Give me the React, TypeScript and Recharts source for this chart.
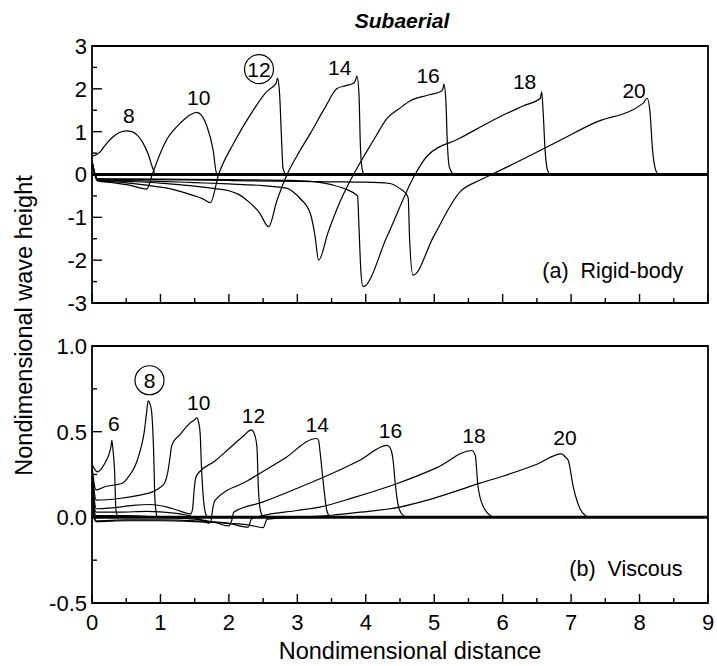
import React from 'react';
import { LineChart, Line, XAxis, YAxis, ReferenceLine, ReferenceArea, ReferenceDot } from 'recharts';

type Pt = [number, number];

// ---------- (a) Rigid-body wave profiles (x, wave height) ----------
const rigid8: Pt[] = [[0, 0.42], [0.12, 0.53], [0.2, 0.7], [0.3, 0.87], [0.4, 0.98], [0.5, 1.02], [0.58, 1.0], [0.66, 0.92], [0.74, 0.75], [0.82, 0.48], [0.88, 0.18], [0.92, 0]];
const rigid10: Pt[] = [[0, 0.3], [0.08, -0.15], [0.3, -0.19], [0.55, -0.25], [0.8, -0.34], [0.88, 0], [1.0, 0.5], [1.09, 0.81], [1.2, 1.05], [1.29, 1.2], [1.43, 1.39], [1.53, 1.45], [1.6, 1.38], [1.68, 1.12], [1.77, 0.57], [1.82, 0.03], [1.86, 0]];
const rigid12: Pt[] = [[0, 0.3], [0.08, -0.14], [0.4, -0.18], [0.8, -0.25], [1.1, -0.32], [1.3, -0.4], [1.5, -0.5], [1.62, -0.57], [1.73, -0.66], [1.85, 0], [2.07, 0.73], [2.2, 1.1], [2.36, 1.51], [2.55, 1.93], [2.67, 2.09], [2.69, 2.13], [2.71, 2.25], [2.74, 1.9], [2.77, 0.8], [2.79, 0.15], [2.83, 0]];
const rigid14: Pt[] = [[0, 0.3], [0.08, -0.13], [0.5, -0.16], [1.0, -0.2], [1.5, -0.27], [1.8, -0.33], [2.0, -0.38], [2.15, -0.47], [2.3, -0.65], [2.45, -0.9], [2.58, -1.22], [2.7, -0.62], [2.85, 0], [3.0, 0.45], [3.19, 0.96], [3.4, 1.55], [3.58, 2.01], [3.7, 2.07], [3.82, 2.13], [3.85, 2.2], [3.87, 2.3], [3.9, 1.9], [3.92, 0.73], [3.94, 0.2], [3.97, 0.02], [4.0, 0]];
const rigid16: Pt[] = [[0, 0.3], [0.08, -0.12], [0.5, -0.14], [1.0, -0.16], [1.5, -0.19], [2.0, -0.22], [2.5, -0.26], [2.84, -0.32], [2.95, -0.42], [3.04, -0.56], [3.19, -0.91], [3.26, -1.45], [3.31, -2.0], [3.45, -1.35], [3.62, -0.65], [3.82, 0], [4.0, 0.5], [4.15, 0.9], [4.31, 1.31], [4.5, 1.55], [4.65, 1.72], [4.9, 1.85], [5.11, 1.95], [5.13, 2.02], [5.14, 2.11], [5.17, 1.74], [5.19, 0.8], [5.22, 0.18], [5.28, 0]];
const rigid18: Pt[] = [[0, 0.3], [0.08, -0.1], [1, -0.11], [2, -0.12], [3, -0.14], [3.3, -0.18], [3.53, -0.25], [3.72, -0.35], [3.85, -0.46], [3.88, -0.5], [3.9, -1.2], [3.93, -2.3], [3.96, -2.62], [4.31, -1.45], [4.72, 0], [4.89, 0.42], [5.38, 0.85], [5.96, 1.35], [6.3, 1.6], [6.55, 1.78], [6.57, 1.93], [6.59, 1.5], [6.62, 0.57], [6.65, 0.13], [6.69, 0]];
const rigid20: Pt[] = [[0, 0.3], [0.08, -0.1], [1, -0.12], [2, -0.14], [3, -0.16], [3.5, -0.17], [4.0, -0.18], [4.35, -0.21], [4.5, -0.33], [4.6, -0.48], [4.62, -0.55], [4.64, -1.5], [4.69, -2.35], [4.99, -1.45], [5.38, -0.4], [5.67, -0.13], [5.84, 0], [6.84, 0.8], [7.33, 1.2], [8.05, 1.66], [8.11, 1.78], [8.15, 1.5], [8.19, 0.57], [8.23, 0.13], [8.27, 0]];

// ---------- (b) Viscous wave profiles ----------
const visc6: Pt[] = [[0, 0.31], [0.04, 0.28], [0.08, 0.265], [0.13, 0.28], [0.18, 0.31], [0.22, 0.34], [0.25, 0.37], [0.28, 0.42], [0.29, 0.45], [0.31, 0.38], [0.33, 0.27], [0.35, 0.04], [0.38, 0]];
const visc8: Pt[] = [[0, 0.3], [0.03, 0.2], [0.06, 0.16], [0.2, 0.18], [0.35, 0.19], [0.45, 0.2], [0.52, 0.23], [0.59, 0.27], [0.65, 0.32], [0.69, 0.37], [0.73, 0.43], [0.76, 0.49], [0.8, 0.62], [0.82, 0.68], [0.84, 0.67], [0.87, 0.62], [0.9, 0.39], [0.92, 0.1], [0.95, 0]];
const visc10: Pt[] = [[0, 0.28], [0.03, 0.16], [0.06, 0.1], [0.4, 0.11], [0.7, 0.13], [0.89, 0.15], [0.98, 0.17], [1.06, 0.2], [1.11, 0.27], [1.14, 0.35], [1.16, 0.41], [1.19, 0.44], [1.28, 0.48], [1.43, 0.55], [1.5, 0.57], [1.53, 0.58], [1.56, 0.55], [1.58, 0.49], [1.6, 0.29], [1.63, 0.1], [1.66, 0.02], [1.69, 0]];
const visc12: Pt[] = [[0, 0.27], [0.03, 0.12], [0.06, 0.05], [0.3, 0.055], [0.6, 0.07], [0.85, 0.075], [1.1, 0.06], [1.3, 0.035], [1.44, 0.02], [1.47, 0.05], [1.49, 0.15], [1.51, 0.22], [1.53, 0.245], [1.8, 0.33], [2.0, 0.4], [2.2, 0.47], [2.33, 0.51], [2.37, 0.49], [2.41, 0.41], [2.43, 0.18], [2.46, 0.04], [2.5, 0]];
const visc14: Pt[] = [[0, 0.25], [0.03, 0.08], [0.06, 0.03], [0.4, 0.03], [0.8, 0.035], [1.2, 0.025], [1.5, 0.0], [1.65, -0.025], [1.7, -0.035], [1.74, -0.02], [1.76, 0.04], [1.8, 0.1], [2.26, 0.21], [2.8, 0.34], [3.28, 0.46], [3.31, 0.45], [3.33, 0.39], [3.38, 0.2], [3.43, 0.04], [3.48, 0]];
const visc16: Pt[] = [[0, 0.25], [0.03, 0.05], [0.06, 0.01], [0.5, 0.01], [1.0, 0.0], [1.5, -0.01], [1.8, -0.03], [1.99, -0.05], [2.04, -0.02], [2.07, 0.03], [2.5, 0.09], [3.0, 0.17], [3.33, 0.225], [3.92, 0.335], [4.31, 0.42], [4.35, 0.41], [4.4, 0.33], [4.43, 0.2], [4.48, 0.06], [4.55, 0.01], [4.62, 0]];
const visc18: Pt[] = [[0, 0.25], [0.03, 0.02], [0.06, -0.02], [0.5, -0.015], [1.0, -0.015], [1.5, -0.02], [2.0, -0.035], [2.28, -0.057], [2.33, -0.01], [2.5, 0.01], [3.0, 0.04], [3.33, 0.06], [3.82, 0.115], [4.45, 0.196], [5.04, 0.29], [5.55, 0.39], [5.6, 0.36], [5.64, 0.18], [5.72, 0.06], [5.86, 0]];
const visc20: Pt[] = [[0, 0.25], [0.03, 0.0], [0.06, -0.025], [0.5, -0.02], [1.0, -0.02], [1.5, -0.025], [2.0, -0.035], [2.3, -0.045], [2.5, -0.06], [2.56, -0.01], [3.0, 0.0], [3.5, 0.012], [3.92, 0.03], [4.5, 0.06], [4.9, 0.1], [5.3, 0.15], [5.67, 0.2], [6.0, 0.24], [6.5, 0.31], [6.86, 0.37], [6.92, 0.35], [6.96, 0.33], [7.03, 0.18], [7.13, 0.05], [7.25, 0]];

const rigidCurves = [rigid8, rigid10, rigid12, rigid14, rigid16, rigid18, rigid20];
const viscCurves = [visc6, visc8, visc10, visc12, visc14, visc16, visc18, visc20];

// ---------- axes ----------
const xTicks = [0, 0.5, 1, 1.5, 2, 2.5, 3, 3.5, 4, 4.5, 5, 5.5, 6, 6.5, 7, 7.5, 8, 8.5, 9];
const rigidYTicks = [-3, -2.5, -2, -1.5, -1, -0.5, 0, 0.5, 1, 1.5, 2, 2.5, 3];
const viscYTicks = [-0.5, -0.25, 0, 0.25, 0.5, 0.75, 1.0];

// ---------- annotations ----------
const rigidLabels = [
  { x: 0.54, y: 1.37, text: '8', circled: false },
  { x: 1.56, y: 1.8, text: '10', circled: false },
  { x: 2.44, y: 2.46, text: '12', circled: true },
  { x: 3.62, y: 2.51, text: '14', circled: false },
  { x: 4.91, y: 2.31, text: '16', circled: false },
  { x: 6.32, y: 2.17, text: '18', circled: false },
  { x: 7.92, y: 1.97, text: '20', circled: false },
];
const viscLabels = [
  { x: 0.32, y: 0.55, text: '6', circled: false },
  { x: 0.84, y: 0.8, text: '8', circled: true },
  { x: 1.56, y: 0.67, text: '10', circled: false },
  { x: 2.36, y: 0.595, text: '12', circled: false },
  { x: 3.29, y: 0.544, text: '14', circled: false },
  { x: 4.36, y: 0.51, text: '16', circled: false },
  { x: 5.58, y: 0.48, text: '18', circled: false },
  { x: 6.91, y: 0.465, text: '20', circled: false },
];
const rigidCaption = { x: 7.61, y: -2.23, text: '(a)  Rigid-body' };
const viscCaption = { x: 7.8, y: -0.3, text: '(b)  Viscous' };

const FONT = '"Liberation Sans", Arial, Helvetica, sans-serif';
const toRows = (pts: Pt[]) => pts.map(([x, y]) => ({ x, y }));

const isInt = (v: number) => Math.abs(v - Math.round(v)) < 1e-9;

function YTick(props: any) {
  const { x, y, payload, kind } = props;
  const v: number = payload.value;
  const major = kind === 'rigid' ? isInt(v) : isInt(v * 2);
  const len = major ? 10 : 5;
  const label = kind === 'rigid' ? String(v) : v.toFixed(1);
  return (
    <g>
      <line x1={x} x2={x + len} y1={y} y2={y} stroke="#000" strokeWidth={1.4} />
      {major && (
        <text x={x - 5} y={y} dy="0.36em" textAnchor="end" fontSize={22} fontFamily={FONT} fill="#000">
          {label}
        </text>
      )}
    </g>
  );
}

function XTick(props: any) {
  const { x, y, payload, showLabel } = props;
  const v: number = payload.value;
  const major = isInt(v);
  const len = major ? 9 : 5;
  return (
    <g>
      <line x1={x} x2={x} y1={y} y2={y - len} stroke="#000" strokeWidth={1.4} />
      {major && showLabel && (
        <text x={x} y={y + 27} textAnchor="middle" fontSize={22} fontFamily={FONT} fill="#000">
          {String(v)}
        </text>
      )}
    </g>
  );
}

function CurveLabel({ cx, cy, text, circled }: any) {
  return (
    <g>
      {circled && <circle cx={cx} cy={cy} r={14.5} fill="none" stroke="#000" strokeWidth={1.2} />}
      <text x={cx} y={cy} dy="0.36em" textAnchor="middle" fontSize={21} fontFamily={FONT} fill="#000">
        {text}
      </text>
    </g>
  );
}

function Caption({ cx, cy, text }: any) {
  return (
    <text x={cx} y={cy} dy="0.36em" textAnchor="middle" fontSize={21.5} fontFamily={FONT} fill="#000" style={{ whiteSpace: 'pre' }}>
      {text}
    </text>
  );
}

export default function App() {
  return (
    <div style={{ position: 'absolute', left: 0, top: 0, width: 717, height: 666, background: '#fff' }}>
      <div style={{ position: 'absolute', left: 0, top: 0 }}>
        <LineChart width={717} height={320} margin={{ top: 46, right: 9, bottom: 16, left: 0 }}>
          <XAxis type="number" dataKey="x" domain={[0, 9]} ticks={xTicks} interval={0} height={1} tickSize={0} tickMargin={0}
            axisLine={false} tickLine={false} allowDataOverflow tick={(p: any) => <XTick {...p} showLabel={false} />} />
          <YAxis type="number" domain={[-3, 3]} ticks={rigidYTicks} interval={0} width={92} tickSize={0} tickMargin={0}
            axisLine={false} tickLine={false} allowDataOverflow tick={(p: any) => <YTick {...p} kind="rigid" />} />
          <ReferenceArea x1={0} x2={9} y1={-3} y2={3} fill="none" fillOpacity={0} stroke="#000" strokeWidth={1.8} ifOverflow="visible" />
          {rigidCurves.map((c, i) => (
            <Line key={'r' + i} name={'r' + i} data={toRows(c)} dataKey="y" type="monotone" stroke="#000" strokeWidth={1.2}
              dot={false} activeDot={false} isAnimationActive={false} />
          ))}
          <ReferenceLine y={0} stroke="#000" strokeWidth={3} />
          {rigidLabels.map((l, i) => (
            <ReferenceDot key={'rl' + i} x={l.x} y={l.y} r={1} ifOverflow="visible"
              shape={(p: any) => <CurveLabel cx={p.cx} cy={p.cy} text={l.text} circled={l.circled} />} />
          ))}
          <ReferenceDot x={rigidCaption.x} y={rigidCaption.y} r={1} ifOverflow="visible"
            shape={(p: any) => <Caption cx={p.cx} cy={p.cy} text={rigidCaption.text} />} />
        </LineChart>
      </div>
      <div style={{ position: 'absolute', left: 0, top: 0 }}>
        <LineChart width={717} height={666} margin={{ top: 346, right: 9, bottom: 33, left: 0 }}>
          <XAxis type="number" dataKey="x" domain={[0, 9]} ticks={xTicks} interval={0} height={30} tickSize={0} tickMargin={0}
            axisLine={false} tickLine={false} allowDataOverflow tick={(p: any) => <XTick {...p} showLabel={true} />} />
          <YAxis type="number" domain={[-0.5, 1]} ticks={viscYTicks} interval={0} width={92} tickSize={0} tickMargin={0}
            axisLine={false} tickLine={false} allowDataOverflow tick={(p: any) => <YTick {...p} kind="visc" />} />
          <ReferenceArea x1={0} x2={9} y1={-0.5} y2={1} fill="none" fillOpacity={0} stroke="#000" strokeWidth={1.8} ifOverflow="visible" />
          {viscCurves.map((c, i) => (
            <Line key={'v' + i} name={'v' + i} data={toRows(c)} dataKey="y" type="monotone" stroke="#000" strokeWidth={1.2}
              dot={false} activeDot={false} isAnimationActive={false} />
          ))}
          <ReferenceLine y={0} stroke="#000" strokeWidth={3} />
          {viscLabels.map((l, i) => (
            <ReferenceDot key={'vl' + i} x={l.x} y={l.y} r={1} ifOverflow="visible"
              shape={(p: any) => <CurveLabel cx={p.cx} cy={p.cy} text={l.text} circled={l.circled} />} />
          ))}
          <ReferenceDot x={viscCaption.x} y={viscCaption.y} r={1} ifOverflow="visible"
            shape={(p: any) => <Caption cx={p.cx} cy={p.cy} text={viscCaption.text} />} />
        </LineChart>
      </div>
      <svg width={717} height={666} style={{ position: 'absolute', left: 0, top: 0, pointerEvents: 'none' }}>
        <text x={402} y={28} textAnchor="middle" fontSize={21} fontWeight="bold" fontStyle="italic" fontFamily={FONT} fill="#000">
          Subaerial
        </text>
        <text transform="translate(31.5,325.5) rotate(-90)" textAnchor="middle" fontSize={23.5} fontFamily={FONT} fill="#000">
          Nondimensional wave height
        </text>
        <text x={410} y={659} textAnchor="middle" fontSize={23.5} fontFamily={FONT} fill="#000">
          Nondimensional distance
        </text>
      </svg>
    </div>
  );
}
